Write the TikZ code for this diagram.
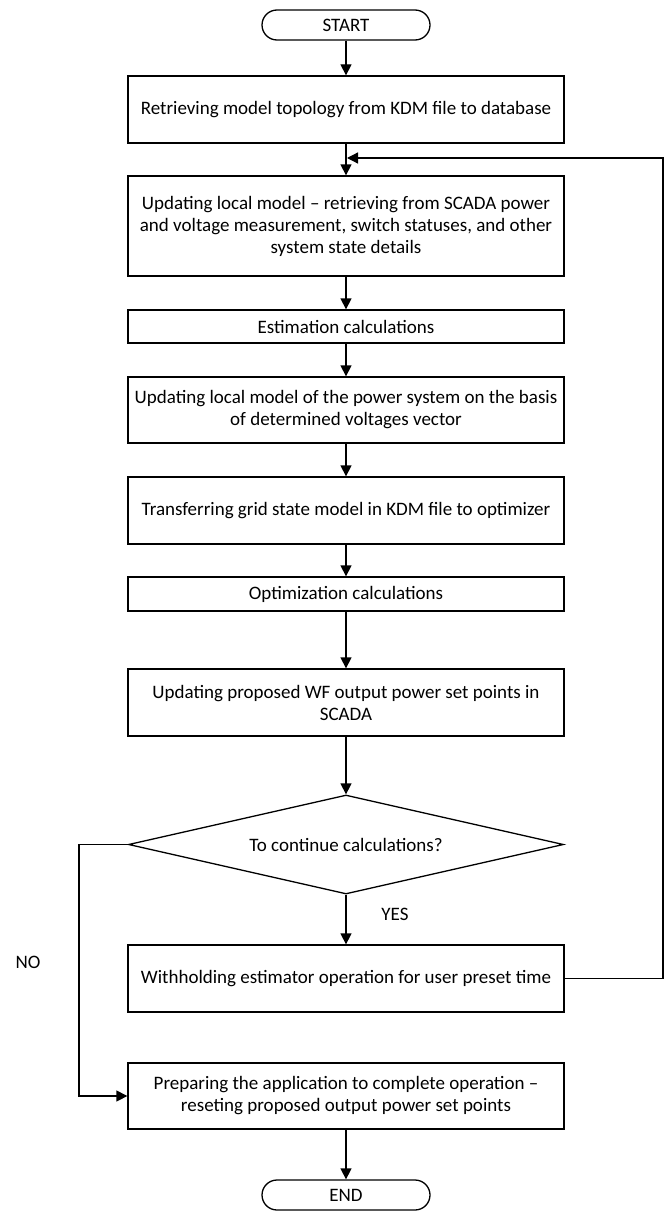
\documentclass[tikz,border=0pt]{standalone}
\usepackage{fontspec}
\setmainfont{Carlito}
\usetikzlibrary{shapes.geometric,arrows.meta}
\begin{document}
\begin{tikzpicture}[x=1pt,y=-1pt,
  every node/.style={font=\fontsize{19}{22}\selectfont, inner sep=0pt, align=center},
  procbox/.style={draw, line width=1.3pt, minimum width=436pt},
  termbox/.style={draw, line width=1.3pt, rounded corners=15pt, minimum width=168pt, minimum height=30pt},
  decision/.style={draw, line width=1.3pt, diamond, aspect=4.4, minimum width=435pt, minimum height=99pt, inner sep=0pt},
  flow/.style={line width=1.3pt, -{Triangle[length=11pt,width=11pt]}},
  plain/.style={line width=1.3pt}]
\useasboundingbox (0,0) rectangle (666,1212);

% process chain
\node[termbox] (start) at (346,25) {START};
\node[procbox, minimum height=67pt] (b1) at (346,109.5) {Retrieving model topology from KDM file to database};
\node[procbox, minimum height=100pt] (b2) at (346,226) {Updating local model -- retrieving from SCADA power\\and voltage measurement, switch statuses, and other\\system state details};
\node[procbox, minimum height=33pt] (b3) at (346,326.5) {Estimation calculations};
\node[procbox, minimum height=66pt] (b4) at (346,410) {Updating local model of the power system on the basis\\of determined voltages vector};
\node[procbox, minimum height=67pt] (b5) at (346,510.5) {Transferring grid state model in KDM file to optimizer};
\node[procbox, minimum height=34pt] (b6) at (346,594) {Optimization calculations};
\node[procbox, minimum height=67pt] (b7) at (346,702.5) {Updating proposed WF output power set points in\\SCADA};
\node[decision] (dec) at (346,844.5) {To continue calculations?};
\node[procbox, minimum height=67pt] (b8) at (346,978.5) {Withholding estimator operation for user preset time};
\node[procbox, minimum height=66pt] (b9) at (346,1096) {Preparing the application to complete operation --\\reseting proposed output power set points};
\node[termbox] (end) at (346,1195) {END};

% branch labels
\node (yes) at (395,914) {YES};
\node (no) at (28,962) {NO};

% helper points for the loops
\coordinate (fbR) at (663,978.5);
\coordinate (fbT) at (663,158);
\coordinate (fbIn) at (346,158);
\coordinate (noL) at (79,844.5);
\coordinate (noB) at (79,1096);

% main flow
\draw[flow] (start) -- (b1);
\draw[flow] (b1) -- (b2);
\draw[flow] (b2) -- (b3);
\draw[flow] (b3) -- (b4);
\draw[flow] (b4) -- (b5);
\draw[flow] (b5) -- (b6);
\draw[flow] (b6) -- (b7);
\draw[flow] (b7) -- (dec);
\draw[flow] (dec) -- (b8);
\draw[flow] (b9) -- (end);

% loop back to the model update
\draw[flow] (b8.east) -- (fbR) -- (fbT) -- ([xshift=1pt]fbIn);

% exit branch
\draw[flow] (dec.west) -- (noL) -- (noB) -- (b9.west);
\end{tikzpicture}
\end{document}
